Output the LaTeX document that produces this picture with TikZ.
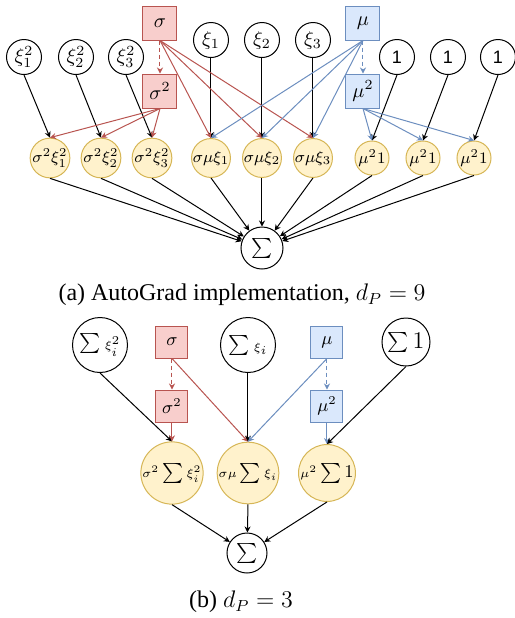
\documentclass[tikz,border=0pt]{standalone}
\usepackage{fontspec}
\setmainfont{Liberation Serif}
\setsansfont{Liberation Sans}
\usetikzlibrary{arrows.meta}

\definecolor{redfill}{HTML}{F8CECC}
\definecolor{redline}{HTML}{B85450}
\definecolor{bluefill}{HTML}{DAE8FC}
\definecolor{blueline}{HTML}{6C8EBF}
\definecolor{yelfill}{HTML}{FFF2CC}
\definecolor{yelline}{HTML}{D6B656}

\begin{document}
\begin{tikzpicture}[x=0.5pt, y=-0.5pt,
    >={Stealth[length=3pt,width=3pt]},
    var/.style={circle, draw, line width=0.5pt, minimum size=17.5pt, inner sep=0pt},
    redbox/.style={draw=redline, fill=redfill, line width=0.5pt, minimum width=17pt, minimum height=17pt, inner sep=0pt},
    bluebox/.style={draw=blueline, fill=bluefill, line width=0.5pt, minimum width=17pt, minimum height=17pt, inner sep=0pt},
    prod/.style={circle, draw=yelline, fill=yelfill, line width=0.5pt, minimum size=17pt, inner sep=0pt, font=\footnotesize},
    edge/.style={->, line width=0.5pt},
    rededge/.style={edge, draw=redline},
    blueedge/.style={edge, draw=blueline},
    dots/.style={dash pattern=on 2pt off 1.5pt},
    caption/.style={font=\fontsize{12}{14}\selectfont}]

    \useasboundingbox (0,0) rectangle (515,618);

    %(a) inputs
    \node[var] (xs1) at (24,57) {$\xi_1^2$};
    \node[var] (xs2) at (76,57) {$\xi_2^2$};
    \node[var] (xs3) at (126,57) {$\xi_3^2$};
    \node[redbox] (sig) at (160,23) {$\sigma$};
    \node[redbox] (sigsq) at (160,91) {$\sigma^2$};
    \node[var] (x1) at (211,40) {$\xi_1$};
    \node[var] (x2) at (262,40) {$\xi_2$};
    \node[var] (x3) at (313,40) {$\xi_3$};
    \node[bluebox] (mu) at (363,23) {$\mu$};
    \node[bluebox] (musq) at (363,91) {$\mu^2$};
    \node[var, font=\sffamily\small] (one1) at (397,57) {1};
    \node[var, font=\sffamily\small] (one2) at (448,57) {1};
    \node[var, font=\sffamily\small] (one3) at (498,57) {1};

    %(a) products
    \node[prod] (p1) at (50,158) {$\sigma^2\xi_1^2$};
    \node[prod] (p2) at (101,158) {$\sigma^2\xi_2^2$};
    \node[prod] (p3) at (152,158) {$\sigma^2\xi_3^2$};
    \node[prod] (p4) at (211,158) {$\sigma\mu\xi_1$};
    \node[prod] (p5) at (262,158) {$\sigma\mu\xi_2$};
    \node[prod] (p6) at (313,158) {$\sigma\mu\xi_3$};
    \node[prod] (p7) at (372,158) {$\mu^2 1$};
    \node[prod] (p8) at (423,158) {$\mu^2 1$};
    \node[prod] (p9) at (474,158) {$\mu^2 1$};

    \node[var, minimum size=21pt] (sum) at (262,248) {$\sum$};

    %(a) edges
    \draw[rededge, dots] (sig.south) -- (sigsq.north);
    \draw[blueedge, dots] (mu.south) -- (musq.north);
    \foreach \s/\t in {xs1/p1, xs2/p2, xs3/p3, x1/p4, x2/p5, x3/p6, one1/p7, one2/p8, one3/p9}
        \draw[edge] (\s.south) -- (\t.north);
    \foreach \t in {p1, p2, p3}
        \draw[rededge] (sigsq.south) -- (\t.north);
    \foreach \t in {p4, p5, p6}
        \draw[rededge] (sig.south) -- (\t.north);
    \foreach \t in {p4, p5, p6}
        \draw[blueedge] (mu.south) -- (\t.north);
    \foreach \t in {p7, p8, p9}
        \draw[blueedge] (musq.south) -- (\t.north);
    \foreach \s in {p1, p2, p3, p4, p5, p6, p7, p8, p9}
        \draw[edge] (\s.south) -- (sum);

    \node[caption] (capa) at (242,295) {(a) AutoGrad implementation, $d_P = 9$};

    %(b) inputs
    \node[var, minimum size=27.5pt, font=\large] (bxs) at (100,345) {$\sum{\scriptscriptstyle\xi_i^2}$};
    \node[redbox, minimum width=16pt, minimum height=16pt, font=\small] (bsig) at (172,342) {$\sigma$};
    \node[redbox, minimum width=16pt, minimum height=16pt, font=\small] (bsigsq) at (172,406) {$\sigma^2$};
    \node[var, minimum size=27.5pt, font=\large] (bx) at (248,345) {$\sum{\scriptscriptstyle\xi_i}$};
    \node[bluebox, minimum width=16pt, minimum height=16pt, font=\small] (bmu) at (327,342) {$\mu$};
    \node[bluebox, minimum width=16pt, minimum height=16pt, font=\small] (bmusq) at (327,406) {$\mu^2$};
    \node[var, minimum size=24pt, font=\large] (bone) at (406,342) {$\sum 1$};

    %(b) products
    \node[prod, minimum size=28pt, font=\small] (bp1) at (172,473) {${\scriptstyle\sigma^2}\sum{\scriptstyle\xi_i^2}$};
    \node[prod, minimum size=28pt, font=\small] (bp2) at (248,473) {${\scriptstyle\sigma\mu}\sum{\scriptstyle\xi_i}$};
    \node[prod, minimum size=28pt, font=\small] (bp3) at (327,473) {${\scriptstyle\mu^2}\sum 1$};

    \node[var, minimum size=20pt] (bsum) at (247,553) {$\sum$};

    %(b) edges
    \draw[rededge, dots] (bsig.south) -- (bsigsq.north);
    \draw[blueedge, dots] (bmu.south) -- (bmusq.north);
    \draw[edge] (bxs.south) -- (bp1.north);
    \draw[rededge] (bsigsq.south) -- (bp1.north);
    \draw[rededge] (bsig.south) -- (bp2.north);
    \draw[edge] (bx.south) -- (bp2.north);
    \draw[blueedge] (bmu.south) -- (bp2.north);
    \draw[blueedge] (bmusq.south) -- (bp3.north);
    \draw[edge] (bone.south) -- (bp3.north);
    \foreach \s in {bp1, bp2, bp3}
        \draw[edge] (\s.south) -- (bsum);

    \node[caption] (capb) at (241,602) {(b) $d_P = 3$};

\end{tikzpicture}
\end{document}
